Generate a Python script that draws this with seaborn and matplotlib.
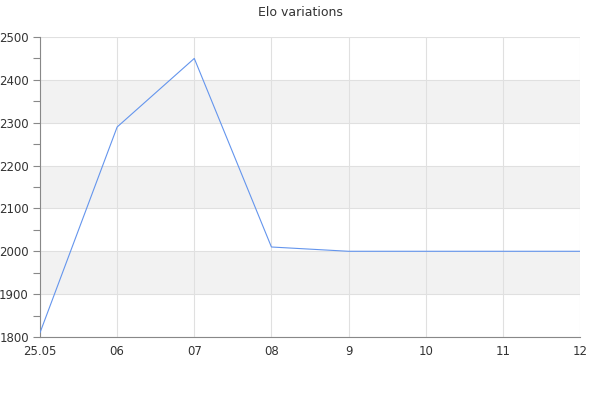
import matplotlib
matplotlib.use("Agg")
import matplotlib.pyplot as plt
from matplotlib.ticker import MultipleLocator
import seaborn as sns
import pandas as pd

# chart data
labels = ["25.05", "06", "07", "08", "9", "10", "11", "12"]
elo = [1810, 2290, 2450, 2010, 2000, 2000, 2000, 2000]
bands = [(1900, 2000), (2100, 2200), (2300, 2400)]

df = pd.DataFrame({"pos": range(len(labels)), "elo": elo})

sns.set_style("white")
plt.rcParams["font.family"] = ["DejaVu Sans"]

fig = plt.figure(figsize=(6, 4), dpi=100)
ax = fig.add_axes([40 / 600, 63 / 400, 540 / 600, 300 / 400])

# alternating background bands
for lo, hi in bands:
    ax.axhspan(lo, hi, color="#f2f2f2", zorder=0, lw=0)

sns.lineplot(data=df, x="pos", y="elo", ax=ax, color="#6495ed", lw=0.8, zorder=3)

ax.set_xlim(0, len(labels) - 1)
ax.set_ylim(1800, 2500)
ax.set_xticks(range(len(labels)))
ax.set_xticklabels(labels)
ax.yaxis.set_major_locator(MultipleLocator(100))
ax.yaxis.set_minor_locator(MultipleLocator(50))
ax.grid(True, which="major", color="#e0e0e0", lw=0.8, zorder=1)
ax.set_axisbelow(True)
ax.set_xlabel("")
ax.set_ylabel("")

for side in ["top", "right"]:
    ax.spines[side].set_visible(False)
for side in ["left", "bottom"]:
    ax.spines[side].set_color("#888888")
    ax.spines[side].set_linewidth(0.8)

ax.tick_params(axis="y", which="both", left=True, length=5, width=0.8,
               color="#888888", labelsize=8.5, labelcolor="#333333", pad=3)
ax.tick_params(axis="x", which="both", bottom=False, labelsize=8.5,
               labelcolor="#333333", pad=2)

fig.suptitle("Elo variations", y=0.985, fontsize=9, color="#333333")

fig.savefig("out.png", dpi=100)
